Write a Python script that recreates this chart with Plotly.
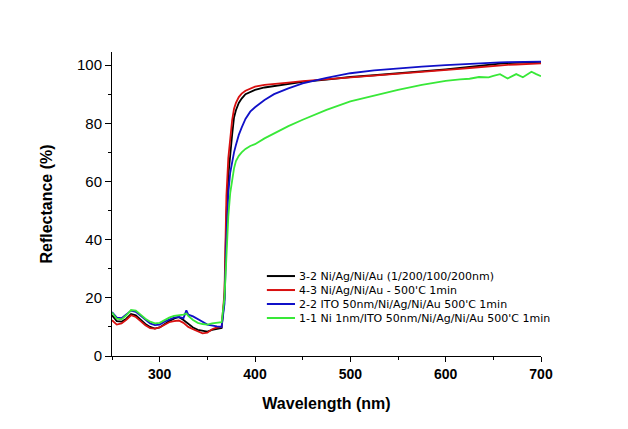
import plotly.graph_objects as go

wavelength = [250, 255, 260, 265, 270, 275, 280, 285, 290, 295, 300, 305, 310, 315, 320, 325, 328, 330, 335, 340,
              345, 350, 355, 360, 365, 368, 370, 372, 374, 376, 378, 380, 383, 386, 390, 395, 400, 410, 420, 435,
              450, 475, 500, 525, 550, 575, 600, 615, 625, 635, 645, 650, 657, 665, 674, 681, 690, 695, 700]

black = [14.0, 12.0, 11.8, 12.8, 14.4, 14.0, 12.5, 11.0, 10.0, 9.4, 9.8, 11.0, 12.0, 12.8, 13.4, 12.4, 11.6, 10.8, 9.8, 9.0,
         8.6, 8.4, 9.0, 9.4, 9.6, 20.0, 48.0, 62.0, 70.0, 76.0, 82.0, 84.5, 87.0, 88.5, 90.0, 90.8, 91.5, 92.3, 92.8, 93.5,
         94.2, 95.0, 95.9, 96.5, 97.1, 97.8, 98.5, 99.0, 99.4, 99.8, 100.1, 100.3, 100.5, 100.7, 100.8, 100.9, 101.0, 101.0, 101.1]

red = [12.3, 10.8, 11.2, 12.4, 14.0, 13.4, 12.0, 10.6, 9.6, 9.4, 9.8, 10.8, 11.6, 12.0, 12.2, 11.4, 10.6, 10.0, 9.2, 8.6,
       7.8, 8.0, 9.2, 9.8, 10.0, 22.0, 55.0, 68.0, 76.0, 81.0, 85.0, 87.0, 89.0, 90.2, 91.2, 92.0, 92.6, 93.2, 93.6, 94.0,
       94.5, 95.1, 95.8, 96.5, 97.1, 97.7, 98.3, 98.7, 99.0, 99.3, 99.6, 99.8, 100.0, 100.1, 100.2, 100.3, 100.4, 100.5, 100.6]

blue = [15.1, 13.2, 13.0, 14.2, 15.6, 15.2, 13.8, 12.4, 11.2, 10.6, 10.8, 11.8, 12.6, 13.2, 13.4, 13.0, 15.7, 14.2, 13.6, 12.8,
        11.8, 10.8, 10.4, 10.2, 10.0, 18.0, 40.0, 56.0, 63.0, 67.0, 70.0, 72.5, 76.0, 78.5, 81.5, 84.0, 85.5, 88.0, 90.0, 92.0,
        93.7, 95.6, 97.2, 98.2, 98.9, 99.5, 100.0, 100.3, 100.5, 100.7, 100.8, 100.8, 100.9, 101.0, 101.1, 101.1, 101.2, 101.2, 101.2]

green = [14.9, 12.8, 12.6, 14.0, 15.8, 15.6, 14.2, 12.8, 11.8, 11.2, 11.4, 12.4, 13.2, 13.8, 14.0, 14.2, 14.6, 13.8, 12.4, 11.4,
         11.0, 10.8, 11.2, 11.4, 11.6, 20.0, 35.0, 48.0, 56.0, 61.0, 64.5, 67.0, 68.8, 70.0, 71.2, 72.2, 72.8, 74.8, 76.5, 79.0,
         81.2, 84.6, 87.5, 89.6, 91.5, 93.2, 94.6, 95.1, 95.3, 95.9, 95.8, 96.3, 96.9, 95.4, 96.9, 95.8, 97.7, 96.9, 96.2]

series_names = [
    "3-2 Ni/Ag/Ni/Au (1/200/100/200nm)",
    "4-3 Ni/Ag/Ni/Au - 500'C 1min",
    "2-2 ITO 50nm/Ni/Ag/Ni/Au 500'C 1min",
    "1-1 Ni 1nm/ITO 50nm/Ni/Ag/Ni/Au 500'C 1min",
]
series_values = [black, red, blue, green]
series_colors = ["#000000", "#d81010", "#1010c8", "#38e838"]

fig = go.Figure()
for name, vals, col in zip(series_names, series_values, series_colors):
    fig.add_trace(go.Scatter(x=wavelength, y=vals, mode="lines", name=name,
                             line=dict(color=col, width=1.8), showlegend=False))

# Hand-built legend (Origin style, compact rows) in paper coordinates
leg_x0, leg_x1, leg_tx = 0.361, 0.4266, 0.431
leg_rows = [0.263, 0.217, 0.171, 0.125]
for name, col, yy in zip(series_names, series_colors, leg_rows):
    fig.add_shape(type="line", xref="paper", yref="paper", x0=leg_x0, x1=leg_x1, y0=yy, y1=yy,
                  line=dict(color=col, width=2))
    fig.add_annotation(xref="paper", yref="paper", x=leg_tx, y=yy, text=name, showarrow=False,
                       xanchor="left", yanchor="middle",
                       font=dict(family="DejaVu Sans, Arial, sans-serif", size=11, color="black"))

fig.update_layout(
    width=628, height=429,
    margin=dict(l=104, r=95, t=44, b=81),
    paper_bgcolor="white", plot_bgcolor="white",
    font=dict(family="Liberation Sans, Arial, sans-serif", color="black"),
    showlegend=False,
)
fig.update_xaxes(range=[250, 700], showgrid=False, zeroline=False,
                 showline=True, linecolor="black", linewidth=1,
                 ticks="outside", ticklen=5, tickcolor="black", dtick=100, tick0=300,
                 tickfont=dict(size=14, family="Liberation Sans, Arial, sans-serif", weight="bold"),
                 minor=dict(dtick=50, ticklen=3, ticks="outside", tickcolor="black"),
                 title=dict(text="<b>Wavelength (nm)</b>", font=dict(size=16), standoff=17))
fig.update_yaxes(range=[0, 104.5], showgrid=False, zeroline=False,
                 showline=True, linecolor="black", linewidth=1,
                 ticks="outside", ticklen=6, tickcolor="black", dtick=20,
                 tickfont=dict(size=15),
                 minor=dict(dtick=10, ticklen=3, ticks="outside", tickcolor="black"),
                 title=dict(text="<b>Reflectance (%)</b>", font=dict(size=16), standoff=20))

fig.write_html("out.html")
